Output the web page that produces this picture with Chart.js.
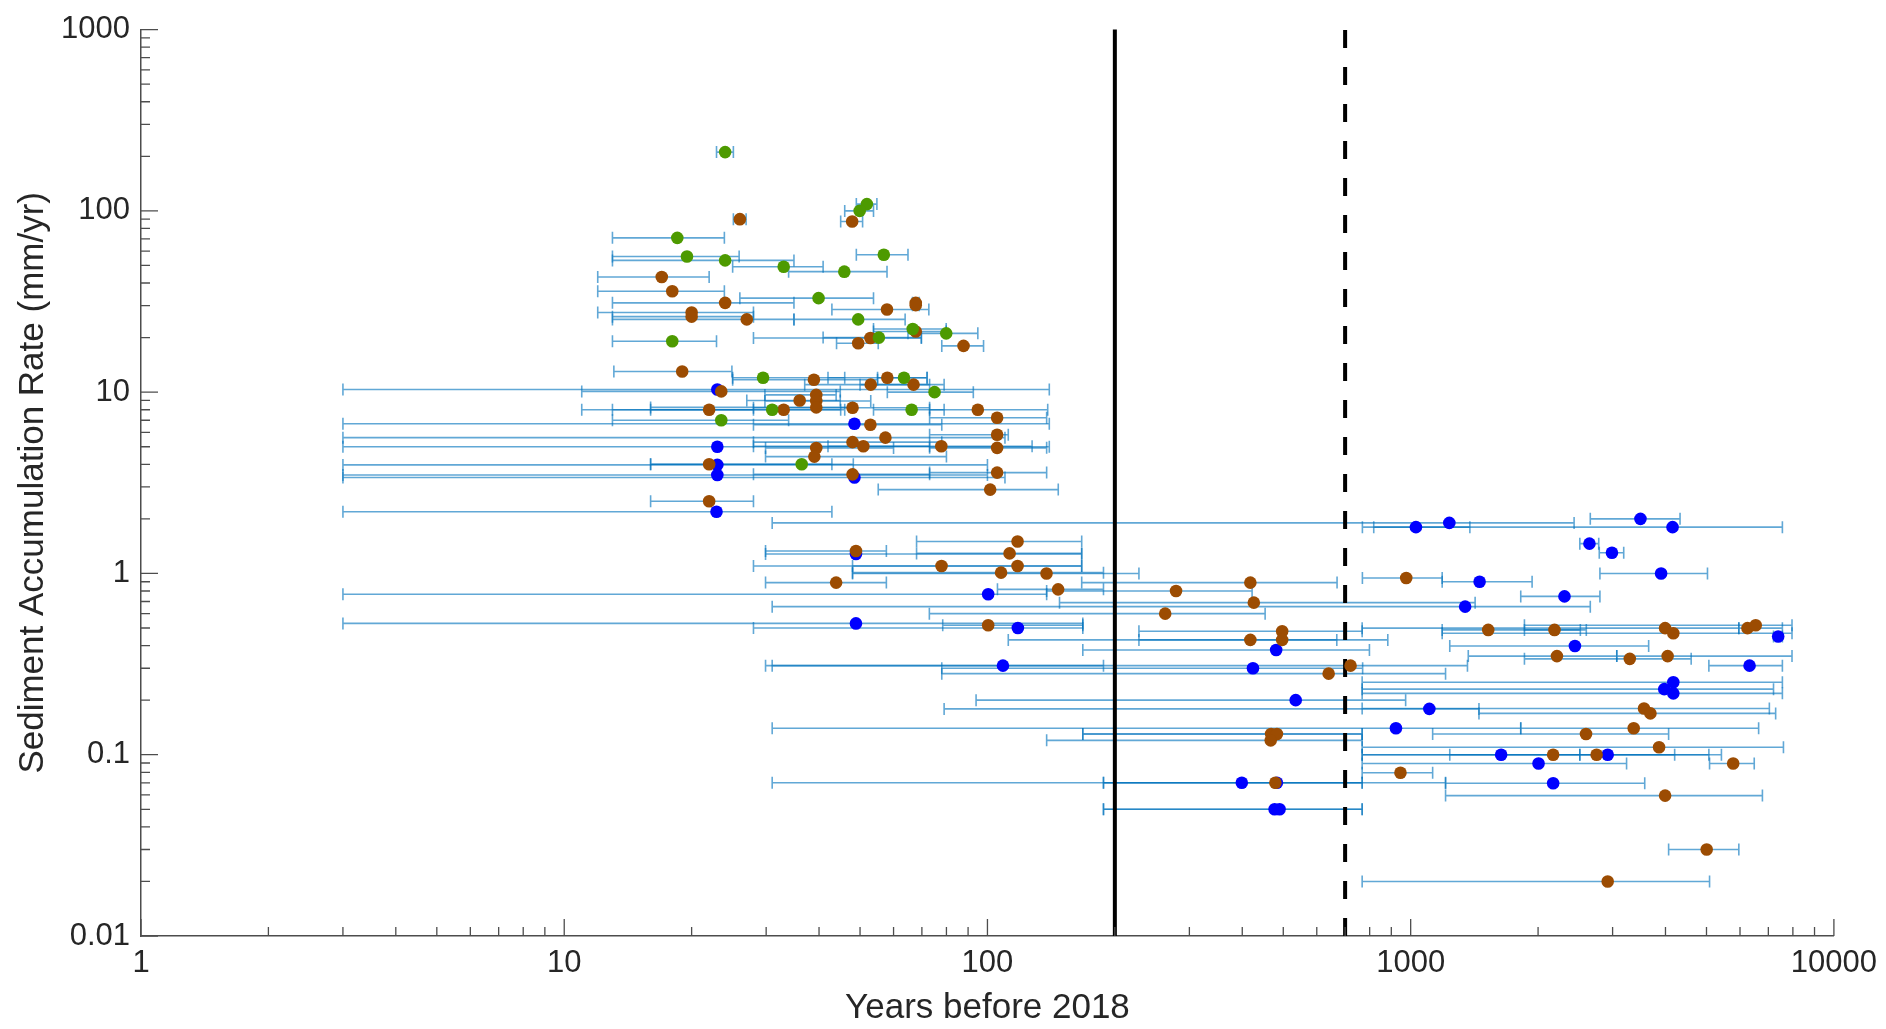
<!DOCTYPE html>
<html>
<head>
<meta charset="utf-8">
<title>Sediment Accumulation Rate</title>
<script src="https://cdn.jsdelivr.net/npm/chart.js@4.4.0/dist/chart.umd.min.js"></script>
<style>
  html, body { margin: 0; padding: 0; background: #fff; }
  #wrap { width: 1886px; height: 1029px; }
</style>
</head>
<body>
<div id="wrap"><canvas id="chart" width="1886" height="1029"></canvas></div>
<script>
// Tick labels
const xTicks = [1, 10, 100, 1000, 10000];
const yTicks = [0.01, 0.1, 1, 10, 100, 1000];

// Reference lines (years before 2018)
const solidLineYear = 200;
const dashedLineYear = 700;

// Green series: age, rate, age error low / high
const greenYears = [24.0, 51.9, 49.9, 18.5, 19.5, 24.0, 33.0, 56.9, 45.9, 39.9, 49.5, 18.0, 55.4, 66.6, 79.9, 29.5, 63.5, 75.0, 31.0, 66.2, 23.5, 36.4];
const greenRates = [211, 109, 100, 71, 56, 53.3, 49.2, 57.3, 46.2, 33.0, 25.2, 19.1, 20.0, 22.3, 21.1, 12.0, 12.0, 10.0, 8.0, 8.0, 7.0, 4.0];
const greenLow   = [22.9, 49.0, 46.0, 13.0, 13.0, 13.0, 25.0, 49.0, 33.9, 26.0, 34.9, 13.0, 40.9, 53.8, 64.9, 25.0, 55.0, 58.0, 13.0, 53.8, 13.0, 16.0];
const greenHigh  = [25.1, 54.8, 53.8, 23.9, 25.9, 34.9, 40.9, 64.9, 57.9, 53.8, 63.9, 22.9, 69.8, 79.9, 94.9, 46.0, 72.0, 92.6, 45.0, 79.0, 33.9, 48.2];

// Brown series
const brownYears = [26.0, 47.9, 17.0, 18.0, 24.0, 57.9, 67.7, 67.7, 20.0, 20.0, 27.0, 52.9, 49.5, 67.7, 87.8, 19.0, 38.9, 58.0, 53.0, 66.9,
  23.5, 36.0, 39.4, 39.4, 39.4, 22.0, 33.0, 48.0, 94.9, 105.4, 52.9, 105.4, 57.4, 48.0, 50.9, 77.8, 105.4, 39.4, 39.0, 22.0,
  48.0, 105.4, 101.5, 22.0,
  117.8, 48.9, 112.8, 77.9, 117.8, 107.7, 137.9, 43.9, 418, 146.9, 279, 426, 263, 100.4, 497, 497, 418, 640, 721, 468,
  483, 467, 479,
  976, 1525, 2187, 3992, 4174, 6249, 6535, 2216, 3294, 4047, 3559, 3685, 3365, 2596, 3863, 2171, 2750, 5781, 946, 3992,
  5005, 2921];
const brownRates = [90, 87.4, 43.2, 36.0, 31.1, 28.6, 31.1, 30.2, 27.5, 26.1, 25.2, 19.9, 18.6, 21.6, 18.0, 13.0, 11.7, 12.0, 11.0, 11.0,
  10.1, 9.0, 9.66, 8.93, 8.24, 8.0, 8.0, 8.2, 8.0, 7.22, 6.61, 5.82, 5.61, 5.3, 5.03, 5.03, 4.93, 4.92, 4.41, 4.0,
  3.52, 3.6, 2.9, 2.5,
  1.50, 1.33, 1.29, 1.10, 1.10, 1.01, 1.00, 0.89, 0.89, 0.817, 0.80, 0.69, 0.60, 0.518, 0.48, 0.43, 0.43, 0.28, 0.31, 0.13,
  0.13, 0.12, 0.07,
  0.943, 0.488, 0.488, 0.499, 0.468, 0.499, 0.518, 0.35, 0.338, 0.35, 0.18, 0.169, 0.14, 0.13, 0.11, 0.10, 0.10, 0.0895, 0.0796, 0.0595,
  0.03, 0.02];
const brownLow = [25.1, 45.0, 12.0, 12.0, 13.0, 42.9, 66.5, 66.5, 12.0, 13.0, 13.0, 28.0, 44.0, 53.8, 78.0, 13.1, 25.0, 42.0, 37.0, 50.0,
  11.0, 27.0, 29.8, 29.8, 16.0, 11.0, 16.0, 28.0, 73.0, 73.0, 28.0, 73.0, 3.0, 28.0, 28.0, 42.0, 73.0, 29.9, 29.9, 16.0,
  28.0, 73.0, 55.2, 16.0,
  68, 29.9, 68, 28, 48, 48, 48, 29.9, 167, 105.6, 138, 148, 72.9, 78.4, 228, 228, 112, 78, 31, 168,
  168, 138, 188,
  769, 1187, 1857, 768, 1187, 5962, 1857, 1368, 1857, 3069, 768, 1450, 1820, 1127, 768, 1237, 2510, 5084, 768, 1209,
  4069, 768];
const brownHigh = [26.9, 50.7, 22.0, 23.9, 34.9, 72.7, 69.0, 69.0, 28.0, 28.0, 34.9, 69.8, 55.2, 79.9, 97.9, 24.9, 55.0, 72.0, 73.0, 79.0,
  44.9, 44.9, 43.9, 53.0, 48.0, 28.0, 46.0, 73.0, 138.8, 138, 78.0, 112, 110, 78.0, 73.0, 127.5, 138, 60, 80, 42.9,
  73.0, 138, 147, 28.0,
  167, 57.7, 167, 167, 167, 188, 228, 57.7, 670, 188, 422, 1420, 453, 168, 768, 883, 669, 1209, 1362, 768,
  768, 768, 768,
  1187, 2517, 2600, 5962, 7962, 7556, 7962, 3069, 4600, 7962, 7039, 7284, 6640, 4069, 7600, 4205, 5065, 6483, 1127, 6778,
  5962, 5084];

// Blue series
const blueYears = [23.0, 48.5, 23.0, 23.0, 23.0, 48.5, 22.9,
  48.9, 100.4, 48.9, 118, 481, 108.8, 424, 535, 1107, 923, 399, 483, 477, 490,
  3491, 1234, 1029, 4157, 2645, 2989, 3906, 1455, 2309, 1345, 7385, 2444, 6320, 4174, 3974, 4174, 1636, 2921, 2005, 2171];
const blueRates = [10.35, 6.7, 5.0, 3.97, 3.49, 3.38, 2.19,
  1.28, 0.767, 0.53, 0.50, 0.378, 0.31, 0.30, 0.20, 0.179, 0.14, 0.07, 0.07, 0.05, 0.05,
  2.0, 1.9, 1.8, 1.8, 1.46, 1.30, 1.0, 0.90, 0.747, 0.656, 0.449, 0.398, 0.31, 0.251, 0.23, 0.218, 0.10, 0.10, 0.0895, 0.0696];
const blueLow = [3.0, 3.0, 3.0, 3.0, 3.0, 3.0, 3.0,
  29.9, 3.0, 3.0, 28, 168, 29.9, 78, 94, 79, 31, 31, 188, 188, 188,
  2657, 31, 769, 818, 2510, 2790, 2800, 1187, 1820, 31, 7200, 1237, 5065, 768, 768, 768, 768, 768, 768, 1209];
const blueHigh = [140, 140, 140, 100, 100, 110, 42.9,
  167, 138, 168, 168, 799, 188, 770, 973, 1450, 1820, 768, 1209, 768, 768,
  4330, 2433, 1380, 7556, 2782, 3187, 5027, 1936, 2800, 2657, 7556, 3650, 7556, 7556, 7200, 7556, 2510, 5423, 3237, 3573];

const FONT = "'Liberation Sans', Arial, Helvetica, sans-serif";
const TEXT = '#262626';
const AXIS = '#4d4d4d';

function series(years, rates, low, high, color) {
  return {
    data: years.map((x, i) => ({ x: x, y: rates[i] })),
    xLow: low,
    xHigh: high,
    backgroundColor: color,
    borderColor: color,
    pointRadius: 6.3,
    pointHoverRadius: 6.3,
    borderWidth: 0
  };
}

// Horizontal error bars and the two reference lines, drawn under the markers
const errorBars = {
  id: 'errorBars',
  beforeDatasetsDraw(chart) {
    const { ctx, chartArea, scales: { x, y } } = chart;
    ctx.save();
    ctx.strokeStyle = 'rgba(0,114,189,0.62)';
    ctx.lineWidth = 1.6;
    chart.data.datasets.forEach(ds => {
      ds.data.forEach((p, i) => {
        const py = y.getPixelForValue(p.y);
        const x0 = x.getPixelForValue(ds.xLow[i]);
        const x1 = x.getPixelForValue(ds.xHigh[i]);
        ctx.beginPath();
        ctx.moveTo(x0, py); ctx.lineTo(x1, py);
        ctx.moveTo(x0, py - 6); ctx.lineTo(x0, py + 6);
        ctx.moveTo(x1, py - 6); ctx.lineTo(x1, py + 6);
        ctx.stroke();
      });
    });

    // vertical lines
    ctx.strokeStyle = '#000';
    ctx.lineWidth = 4;
    const xs = x.getPixelForValue(solidLineYear);
    ctx.beginPath();
    ctx.moveTo(xs, chartArea.bottom);
    ctx.lineTo(xs, chartArea.top);
    ctx.stroke();

    const xd = x.getPixelForValue(dashedLineYear);
    ctx.setLineDash([18, 19]);
    ctx.beginPath();
    ctx.moveTo(xd, chartArea.bottom);
    ctx.lineTo(xd, chartArea.top);
    ctx.stroke();
    ctx.restore();
  }
};

// Inward major and minor tick marks, like the original axes
const logTicks = {
  id: 'logTicks',
  afterDraw(chart) {
    const { ctx, chartArea, scales: { x, y } } = chart;
    ctx.save();
    ctx.strokeStyle = AXIS;
    ctx.lineWidth = 1.3;
    ctx.beginPath();
    for (let d = 0; d < xTicks.length; d++) {
      const base = xTicks[d];
      const px = x.getPixelForValue(base);
      ctx.moveTo(px, chartArea.bottom); ctx.lineTo(px, chartArea.bottom - 17);
      if (d < xTicks.length - 1) {
        for (let m = 2; m <= 9; m++) {
          const mx = x.getPixelForValue(base * m);
          ctx.moveTo(mx, chartArea.bottom); ctx.lineTo(mx, chartArea.bottom - 9);
        }
      }
    }
    for (let d = 0; d < yTicks.length; d++) {
      const base = yTicks[d];
      const py = y.getPixelForValue(base);
      ctx.moveTo(chartArea.left, py); ctx.lineTo(chartArea.left + 17, py);
      if (d < yTicks.length - 1) {
        for (let m = 2; m <= 9; m++) {
          const my = y.getPixelForValue(base * m);
          ctx.moveTo(chartArea.left, my); ctx.lineTo(chartArea.left + 9, my);
        }
      }
    }
    ctx.stroke();
    ctx.restore();
  }
};

new Chart(document.getElementById('chart'), {
  type: 'scatter',
  data: {
    datasets: [
      series(greenYears, greenRates, greenLow, greenHigh, '#4d9a00'),
      series(brownYears, brownRates, brownLow, brownHigh, '#9c4c02'),
      series(blueYears, blueRates, blueLow, blueHigh, '#0000ff')
    ]
  },
  options: {
    responsive: false,
    animation: false,
    devicePixelRatio: 1,
    layout: { padding: { top: 26, right: 49, left: 0, bottom: 0 } },
    plugins: { legend: { display: false }, tooltip: { enabled: false } },
    scales: {
      x: {
        type: 'logarithmic',
        min: 1,
        max: 10000,
        afterBuildTicks: s => { s.ticks = xTicks.map(v => ({ value: v })); },
        afterFit: s => { s.height = 93; },
        ticks: {
          callback: v => String(v),
          font: { family: FONT, size: 31 },
          color: TEXT,
          padding: 9,
          maxRotation: 0,
          autoSkip: false
        },
        grid: { display: false, drawTicks: false },
        border: { display: true, color: AXIS, width: 1.5 },
        title: {
          display: true,
          text: 'Years before 2018',
          font: { family: FONT, size: 35 },
          color: TEXT,
          padding: { top: 0, bottom: 0 }
        }
      },
      y: {
        type: 'logarithmic',
        min: 0.01,
        max: 1000,
        afterBuildTicks: s => { s.ticks = yTicks.map(v => ({ value: v })); },
        afterFit: s => { s.width = 141; },
        ticks: {
          callback: v => String(v),
          font: { family: FONT, size: 31 },
          color: TEXT,
          padding: 11,
          autoSkip: false
        },
        grid: { display: false, drawTicks: false },
        border: { display: true, color: AXIS, width: 1.5 },
        title: {
          display: true,
          text: 'Sediment Accumulation Rate (mm/yr)',
          font: { family: FONT, size: 35 },
          color: TEXT,
          padding: { top: 12, bottom: 0 }
        }
      }
    }
  },
  plugins: [errorBars, logTicks]
});
</script>
</body>
</html>
